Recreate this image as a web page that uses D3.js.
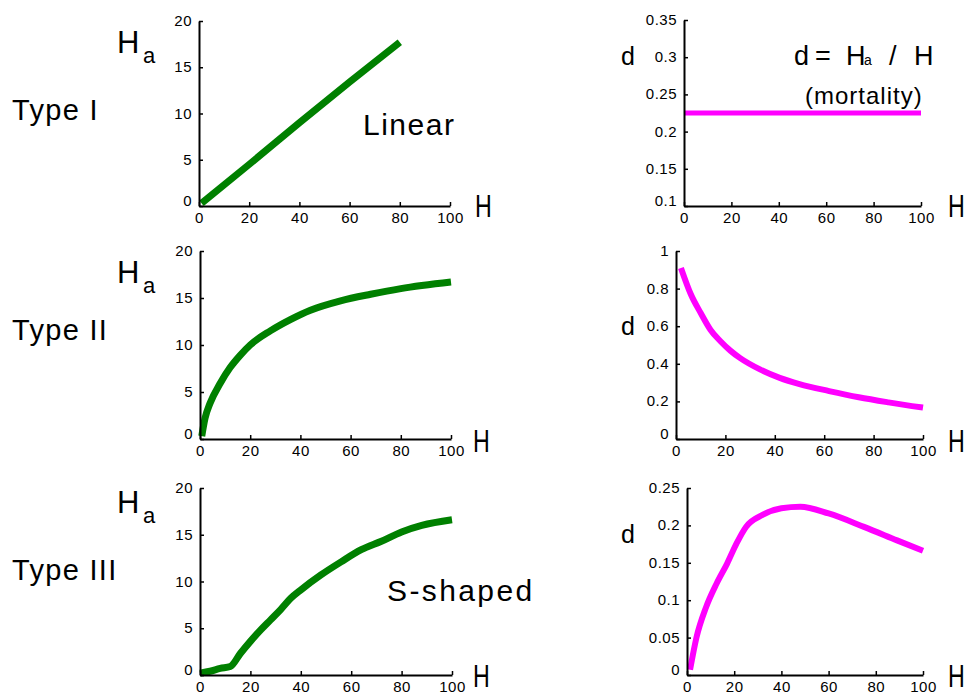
<!DOCTYPE html>
<html>
<head>
<meta charset="utf-8">
<script src="https://cdn.jsdelivr.net/npm/d3@7"></script>
<style>
	body { margin: 0; background: #fff; }
	text { font-family: "Liberation Sans", Arial, sans-serif; fill: #000; }
	.tick text { font-size: 15px; letter-spacing: 0.5px; }
</style>
</head>
<body>
<div id="chart"></div>
<script>
// tick values
var hTicks = [0, 20, 40, 60, 80, 100];
var haTicks = [0, 5, 10, 15, 20];
var dTicks1 = [0.1, 0.15, 0.2, 0.25, 0.3, 0.35];
var dTicks2 = [0, 0.2, 0.4, 0.6, 0.8, 1];
var dTicks3 = [0, 0.05, 0.1, 0.15, 0.2, 0.25];
var rowLabels = ["Type I", "Type II", "Type III"];

// Type I : linear
var type1H = [1, 20, 40, 60, 80];
var type1Ha = [0.3, 4.5, 9.0, 13.4, 17.7];
var type1DH = [0, 100];
var type1D = [0.225, 0.225];

// Type II
var type2H = [0.7, 2, 4, 8, 12, 16, 20, 28, 36, 44, 56, 68, 80, 100];
var type2Ha = [0.3, 2.2, 3.8, 5.9, 7.6, 8.9, 10.0, 11.5, 12.7, 13.7, 14.7, 15.4, 16.0, 16.7];
var type2DH = [2, 6, 10, 14, 18, 22, 26, 34, 42, 50, 62, 74, 86, 100];
var type2D = [0.91, 0.77, 0.67, 0.58, 0.52, 0.47, 0.43, 0.37, 0.325, 0.292, 0.255, 0.222, 0.195, 0.167];

// Type III : S-shaped
var type3H = [0, 4, 8, 12, 16, 20, 24, 28, 32, 36, 40, 48, 56, 64, 72, 80, 88, 100];
var type3Ha = [0.2, 0.4, 0.7, 0.9, 2.3, 3.6, 4.8, 5.9, 7.0, 8.2, 9.1, 10.7, 12.1, 13.4, 14.3, 15.3, 16.0, 16.6];
var type3DH = [1.3, 4, 8, 12.5, 17, 21, 25, 32, 40, 48, 60, 75, 89, 100];
var type3D = [0.007, 0.05, 0.09, 0.122, 0.149, 0.176, 0.198, 0.214, 0.223, 0.225, 0.216, 0.198, 0.18, 0.166];

(function() {
	var width = 966, height = 697;

	var svg = d3.select("#chart")
				.append("svg")
				.attr("width", width)
				.attr("height", height);

	// panel boxes in pixels
	var panels = [
		{ x0: 199, x1: 450, top: 21, bottom: 206, ydom: [0, 20], yticks: haTicks, xs: type1H, ys: type1Ha, color: "#008000", w: 7 },
		{ x0: 684, x1: 921, top: 20, bottom: 206, ydom: [0.1, 0.35], yticks: dTicks1, xs: type1DH, ys: type1D, color: "#ff00ff", w: 5 },
		{ x0: 200, x1: 451, top: 251, bottom: 439, ydom: [0, 20], yticks: haTicks, xs: type2H, ys: type2Ha, color: "#008000", w: 7 },
		{ x0: 676, x1: 923, top: 251, bottom: 439, ydom: [0, 1], yticks: dTicks2, xs: type2DH, ys: type2D, color: "#ff00ff", w: 6 },
		{ x0: 200, x1: 452, top: 488, bottom: 675, ydom: [0, 20], yticks: haTicks, xs: type3H, ys: type3Ha, color: "#008000", w: 7 },
		{ x0: 687, x1: 923, top: 488, bottom: 675, ydom: [0, 0.25], yticks: dTicks3, xs: type3DH, ys: type3D, color: "#ff00ff", w: 6 }
	];

	panels.forEach(function(p) {
		var xScale = d3.scaleLinear().domain([0, 100]).range([p.x0, p.x1]);
		var yScale = d3.scaleLinear().domain(p.ydom).range([p.bottom, p.top]);

		var pts = p.xs.map(function(h, i) { return [h, p.ys[i]]; });

		var line = d3.line()
			.x(function(d) { return xScale(d[0]); })
			.y(function(d) { return yScale(d[1]); })
			.curve(d3.curveMonotoneX);

		svg.append("path")
			.datum(pts)
			.attr("d", line)
			.attr("fill", "none")
			.attr("stroke", p.color)
			.attr("stroke-width", p.w)
			.attr("stroke-linejoin", "round");

		var xAxis = svg.append("g")
			.attr("transform", "translate(0," + p.bottom + ")")
			.call(d3.axisBottom(xScale).tickValues(hTicks).tickSizeInner(-4).tickSizeOuter(0).tickPadding(6).tickFormat(d3.format("d")));

		var yAxis = svg.append("g")
			.attr("transform", "translate(" + p.x0 + ",0)")
			.call(d3.axisLeft(yScale).tickValues(p.yticks).tickSizeInner(-4).tickSizeOuter(0).tickPadding(7).tickFormat(d3.format("~g")));

		[xAxis, yAxis].forEach(function(a) {
			a.select(".domain").attr("stroke", "#000").attr("stroke-width", 2);
			a.selectAll(".tick line").attr("stroke", "#000").attr("stroke-width", 1.5);
			a.attr("font-family", null).attr("font-size", null);
		});
		yAxis.selectAll(".tick text").attr("dy", "0.3em");
		// the zero labels sit a bit off the corner
		yAxis.selectAll(".tick text").filter(function(d) { return d === p.ydom[0]; }).attr("dy", "-0.05em");
	});

	// row labels
	var rowY = [120, 340, 580];
	svg.selectAll(".rowlab")
		.data(rowLabels)
		.enter()
		.append("text")
		.attr("class", "rowlab")
		.attr("x", 12)
		.attr("y", function(d, i) { return rowY[i]; })
		.attr("font-size", 29)
		.attr("letter-spacing", 1.3)
		.text(function(d) { return d; });

	// Ha labels
	var haY = [53, 283, 513];
	haY.forEach(function(y) {
		svg.append("text").attr("x", 117).attr("y", y).attr("font-size", 31).text("H");
		svg.append("text").attr("x", 143).attr("y", y + 10).attr("font-size", 22).text("a");
	});

	// d labels
	[65, 335, 543].forEach(function(y) {
		svg.append("text").attr("x", 621).attr("y", y).attr("font-size", 25).text("d");
	});

	// H labels on x axes
	[[475, 217], [948, 217], [473, 452], [948, 452], [473, 687], [948, 687]].forEach(function(p) {
		svg.append("text").attr("x", p[0]).attr("y", p[1]).attr("font-size", 31)
			.attr("transform", "translate(" + p[0] + ",0) scale(0.75,1) translate(" + (-p[0]) + ",0)")
			.text("H");
	});

	// annotations
	svg.append("text").attr("x", 363).attr("y", 135).attr("font-size", 30).attr("letter-spacing", 1.5).text("Linear");
	svg.append("text").attr("x", 387).attr("y", 601).attr("font-size", 30).attr("letter-spacing", 2.4).text("S-shaped");

	var eq = svg.append("text").attr("y", 65).attr("font-size", 27);
	eq.append("tspan").attr("x", 794).text("d");
	eq.append("tspan").attr("x", 815).text("=");
	eq.append("tspan").attr("x", 846).text("H");
	eq.append("tspan").attr("x", 864).attr("font-size", 14).text("a");
	eq.append("tspan").attr("x", 889).text("/");
	eq.append("tspan").attr("x", 914).text("H");

	svg.append("text").attr("x", 805).attr("y", 104).attr("font-size", 24).attr("letter-spacing", 1).text("(mortality)");
})();
</script>
</body>
</html>
